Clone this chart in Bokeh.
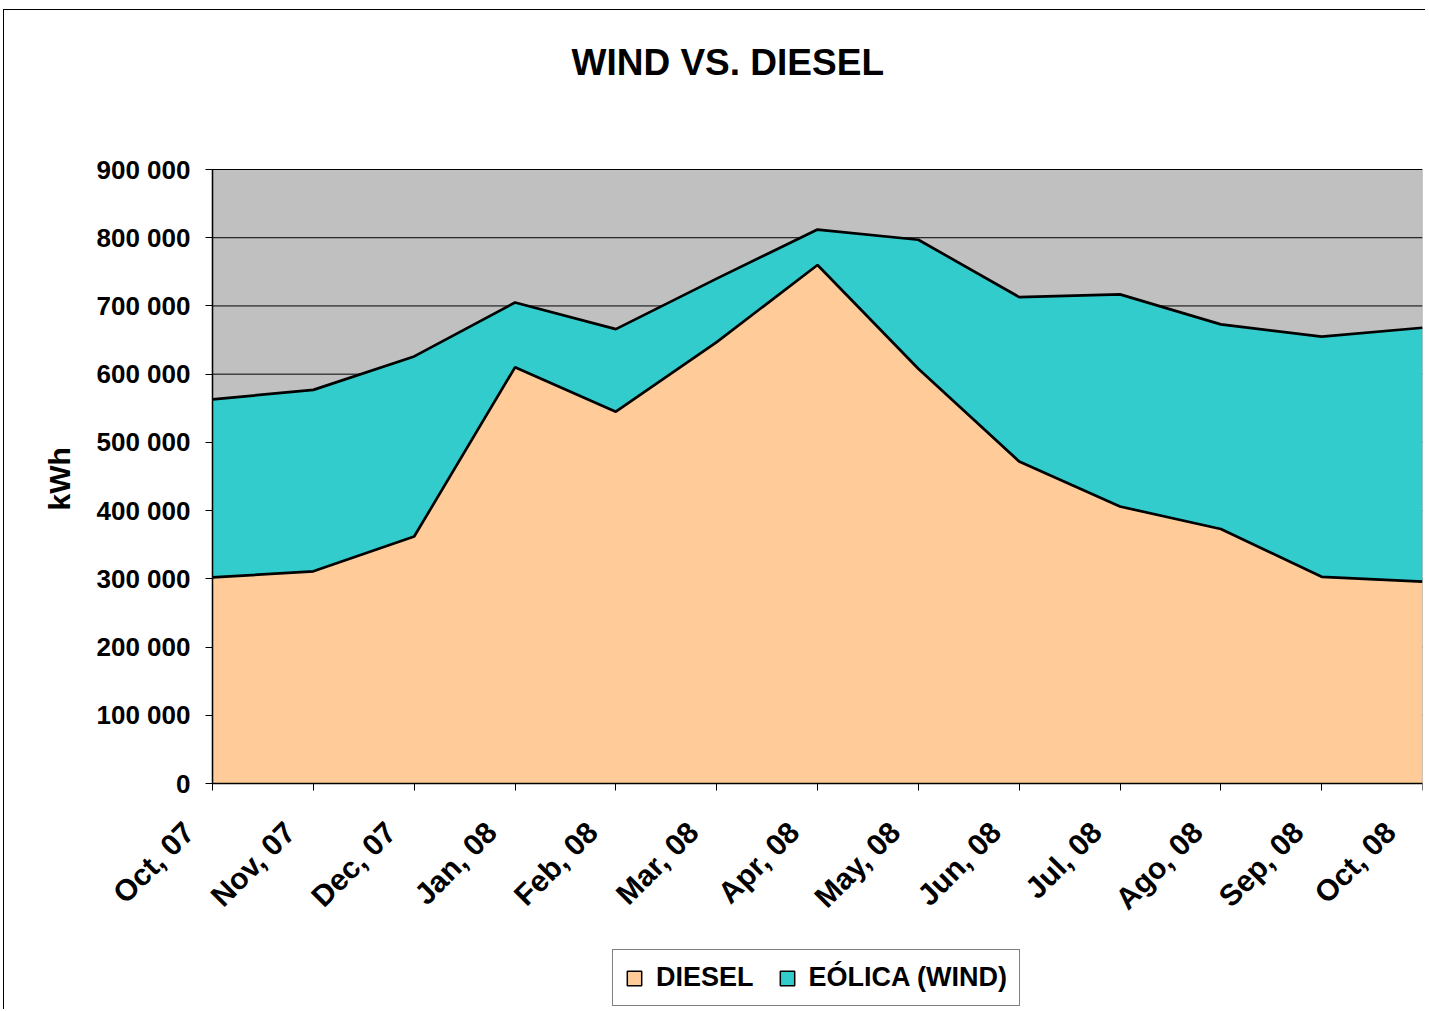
import math
from bokeh.plotting import figure
from bokeh.models import (ColumnDataSource, FixedTicker, Legend, LegendItem, Range1d, Title,
                          BoxAnnotation)
from bokeh.embed import file_html
from bokeh.resources import INLINE

months = ["Oct, 07", "Nov, 07", "Dec, 07", "Jan, 08", "Feb, 08", "Mar, 08", "Apr, 08",
          "May, 08", "Jun, 08", "Jul, 08", "Ago, 08", "Sep, 08", "Oct, 08"]
diesel = [302000, 311000, 362000, 610000, 545000, 647000, 760000,
          608000, 472000, 406000, 373000, 303000, 296000]
wind = [261000, 266000, 264000, 95000, 121000, 93000, 52000,
        189000, 241000, 311000, 300000, 352000, 372000]
yticks = [0, 100000, 200000, 300000, 400000, 500000, 600000, 700000, 800000, 900000]
ylabels = ["0", "100 000", "200 000", "300 000", "400 000", "500 000",
           "600 000", "700 000", "800 000", "900 000"]
series_names = ["DIESEL", "EÓLICA (WIND)"]
colors = ["#FFCC99", "#33CCCC"]

FONT = "Liberation Sans"
x = list(range(len(months)))
n = len(months) - 1
ymax = yticks[-1]
source = ColumnDataSource(data=dict(x=x, diesel=diesel, wind=wind))

# The frame is larger than the plot area (down to the legend, left to the tick labels,
# a little above the top label); the plot area itself is 1210 x 614 px.
PLOT_W, PLOT_H = 1210, 614
EXTRA_L, EXTRA_B, EXTRA_T = 122, 226, 16
xmin = -n * EXTRA_L / PLOT_W
ymin = -ymax * EXTRA_B / PLOT_H
ytop = ymax + ymax * EXTRA_T / PLOT_H

p = figure(frame_width=PLOT_W + EXTRA_L, frame_height=PLOT_H + EXTRA_B + EXTRA_T,
           output_backend="svg", toolbar_location=None, y_axis_location="right",
           min_border_left=86, min_border_right=3, min_border_top=159 - EXTRA_T,
           min_border_bottom=0,
           x_range=Range1d(xmin, n), y_range=Range1d(ymin, ytop),
           background_fill_color="white", border_fill_color="white",
           styles={"border-top": "1px solid black", "border-left": "1px solid black",
                   "margin-left": "3px", "margin-top": "9px"})
p.outline_line_color = None

p.title.text = "WIND VS. DIESEL"
p.title.text_font = FONT
p.title.text_font_size = "37px"
p.title.text_font_style = "bold"
p.title.text_color = "black"
p.title.align = "left"
p.title.offset = 481
p.title.standoff = 0
# spacer between the frame and the title
p.add_layout(Title(text=" ", text_font_size="10px", standoff=74 - EXTRA_T), "above")

# grey plot area
p.add_layout(BoxAnnotation(left=0, right=n, bottom=0, top=ymax, fill_color="#C0C0C0",
                           fill_alpha=1, line_color=None, level="image"))
# horizontal gridlines limited to the plot area
p.xgrid.grid_line_color = None
p.ygrid.grid_line_color = None
p.segment(x0=0, x1=n, y0=yticks, y1=yticks, line_color="black", line_width=1,
          level="underlay")

p.varea_stack(["diesel", "wind"], x="x", color=colors, source=source)
p.vline_stack(["diesel", "wind"], x="x", color="black", line_width=2.7, source=source)

p.add_layout(BoxAnnotation(left=0, right=n, bottom=0, top=ymax, fill_alpha=0,
                           line_color="black", line_width=1.2, level="overlay"))

# y axis drawn at x = 0; labels padded with no-break spaces so that they end flush
def _pad(s):
    units = 2 * sum(c.isdigit() for c in s) + s.count(" ")
    return "\u00a0" * (13 - units) + s

p.yaxis.ticker = FixedTicker(ticks=yticks)
p.yaxis.fixed_location = 0
p.yaxis.bounds = (0, ymax)
p.yaxis.major_label_overrides = {v: _pad(l) for v, l in zip(yticks, ylabels)}
p.yaxis.major_label_text_font_size = "26px"
p.yaxis.major_tick_out = 0
p.yaxis.major_tick_in = 7
p.yaxis.major_label_standoff = -116

# month labels; trailing no-break spaces set them a little left of their ticks
mpad = "\u00a0" * 4
p.xaxis.ticker = FixedTicker(ticks=x)
p.xaxis.fixed_location = 0
p.xaxis.bounds = (0, n)
p.xaxis.major_label_overrides = {i: m + mpad for i, m in zip(x, months)}
p.xaxis.major_label_orientation = math.pi / 4
p.xaxis.major_label_text_font_size = "30px"
p.xaxis.major_label_standoff = 13
p.xaxis.major_tick_out = 7
p.xaxis.major_tick_in = 0

for ax in (p.xaxis, p.yaxis):
    ax.major_label_text_font = FONT
    ax.major_label_text_font_style = "bold"
    ax.major_label_text_color = "black"
    ax.axis_line_color = "black"
    ax.axis_line_width = 1.5
    ax.major_tick_line_color = "black"
    ax.minor_tick_line_color = None

# y-axis title, centred on the plot area
p.add_layout(Title(text="kWh", text_font=FONT, text_font_size="30px", text_font_style="bold",
                   text_color="black", align="left", offset=499, standoff=30), "left")

# swatches with black outline for the legend (never visible in the plot area)
nan = float("nan")
swatch_src = ColumnDataSource(data=dict(l=[nan], r=[nan], b=[nan], t=[nan]))
sw = [p.quad(left="l", right="r", bottom="b", top="t", source=swatch_src,
             fill_color=c, line_color="black", line_width=1.5) for c in colors]

legend = Legend(items=[LegendItem(label=nm, renderers=[r]) for nm, r in zip(series_names, sw)],
                orientation="horizontal", location=(400 + EXTRA_L, 3),
                label_text_font=FONT, label_text_font_style="bold", label_text_font_size="27px",
                label_text_color="black",
                glyph_width=18, glyph_height=18, label_standoff=13, spacing=24, padding=12,
                margin=0, border_line_color="black", border_line_width=1,
                background_fill_color="white", background_fill_alpha=1)
p.add_layout(legend, "center")

open("out.html", "w").write(file_html(p, INLINE))
